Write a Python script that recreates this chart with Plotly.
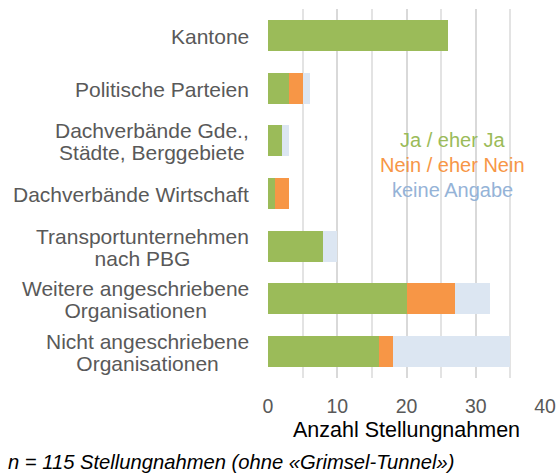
import plotly.graph_objects as go

# Categories (top to bottom) and counts per answer
categories = [
    "Kantone",
    "Politische Parteien",
    "Dachverbände Gde.,<br>Städte, Berggebiete",
    "Dachverbände Wirtschaft",
    "Transportunternehmen<br>nach PBG",
    "Weitere angeschriebene<br>Organisationen",
    "Nicht angeschriebene<br>Organisationen",
]
ja = [26, 3, 2, 1, 8, 20, 16]
nein = [0, 2, 0, 2, 0, 7, 2]
keine = [0, 1, 1, 0, 2, 5, 17]

series = [
    ("Ja / eher Ja", ja, "#9BBB59", "#9BBB59"),
    ("Nein / eher Nein", nein, "#F79646", "#F79646"),
    ("keine Angabe", keine, "#DCE6F2", "#95B3D7"),
]

font_name = "Liberation Sans, Arial, sans-serif"

fig = go.Figure()
for name, vals, color, _ in series:
    fig.add_trace(
        go.Bar(
            y=categories,
            x=vals,
            name=name,
            orientation="h",
            marker=dict(color=color, line=dict(width=0)),
        )
    )

# Category labels: right-aligned block, lines centred, tight line spacing
annotations = []
for c in categories:
    lines = c.split("<br>")
    text = "<br>".join('<span style="font-size:21px">%s</span>' % l for l in lines)
    annotations.append(
        dict(
            text=text,
            xref="paper",
            yref="y",
            x=0,
            y=c,
            xshift=-17,
            yshift=-1,
            xanchor="right",
            yanchor="middle",
            align="center",
            showarrow=False,
            font=dict(family=font_name, size=17, color="#595959"),
        )
    )

# Legend as coloured text
for i, (name, _, _, tcolor) in enumerate(series):
    annotations.append(
        dict(
            text=name,
            xref="x",
            yref="paper",
            x=26.7,
            y=0.645 - i * 0.068,
            xanchor="center",
            yanchor="middle",
            showarrow=False,
            font=dict(family=font_name, size=20, color=tcolor),
        )
    )

annotations.append(
    dict(
        text="<i>n = 115 Stellungnahmen (ohne «Grimsel-Tunnel»)</i>",
        xref="paper",
        yref="paper",
        x=(6 - 268) / 277,
        y=(378 - 462) / 369,
        xanchor="left",
        yanchor="middle",
        showarrow=False,
        font=dict(family=font_name, size=20.2, color="#000000"),
    )
)

fig.update_layout(
    width=558,
    height=474,
    barmode="stack",
    bargap=0.41,
    showlegend=False,
    paper_bgcolor="white",
    plot_bgcolor="white",
    margin=dict(l=268, r=13, t=9, b=96, autoexpand=False),
    font=dict(family=font_name),
    xaxis=dict(
        range=[0, 40],
        dtick=10,
        showgrid=True,
        gridcolor="#d9d9d9",
        gridwidth=1.5,
        minor=dict(dtick=5, showgrid=True, gridcolor="#e3e3e3", gridwidth=1.5),
        zeroline=False,
        ticklabelstandoff=14,
        tickfont=dict(family=font_name, size=19.5, color="#595959"),
        title=dict(
            text="Anzahl Stellungnahmen",
            font=dict(family=font_name, size=21.5, color="#000000"),
            standoff=6,
        ),
        fixedrange=True,
    ),
    yaxis=dict(
        autorange="reversed",
        showticklabels=False,
        showgrid=False,
        fixedrange=True,
    ),
    annotations=annotations,
)

fig.write_html(
    "out.html",
    config={"displayModeBar": False},
    post_script="document.body.style.margin='0';",
)
